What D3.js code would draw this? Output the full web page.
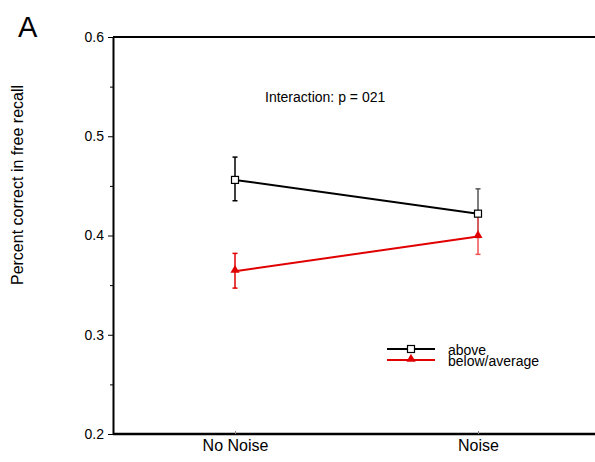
<!DOCTYPE html>
<html>
<head>
<meta charset="utf-8">
<script src="https://cdn.jsdelivr.net/npm/d3@7"></script>
<style>
  body { margin: 0; background: #fff; }
  text { font-family: "Liberation Sans", Arial, sans-serif; }
</style>
</head>
<body>
<script>
// data
var conditions = ["No Noise", "Noise"];
var groups = ["above", "below/average"];
var aboveMean = [0.456, 0.422];
var aboveLow = [0.435, 0.398];
var aboveHigh = [0.479, 0.447];
var belowMean = [0.364, 0.399];
var belowLow = [0.347, 0.381];
var belowHigh = [0.382, 0.420];
var yTicks = [0.2, 0.3, 0.4, 0.5, 0.6];
var yMinor = [0.25, 0.35, 0.45, 0.55];

var W = 595, H = 462;
var margin = {top: 37, right: 0, bottom: 28, left: 113},
    width = W - margin.left - margin.right,
    height = H - margin.top - margin.bottom;

var svg = d3.select('body')
  .append("svg")
    .attr("width", W)
    .attr("height", H);

var g = svg.append("g")
    .attr("transform", "translate(" + margin.left + "," + margin.top + ")");

var x = d3.scalePoint()
  .domain(conditions)
  .range([122, 365]);

var y = d3.scaleLinear()
  .domain([0.2, 0.6])
  .range([height, 0]);

// Y axis
var yAxis = g.append("g")
  .call(d3.axisLeft(y).tickValues(yTicks).tickFormat(d3.format(".1f")).tickSize(5).tickSizeOuter(0));
yAxis.select(".domain").attr("stroke-width", 2);
yAxis.selectAll("text").attr("font-size", 14).attr("dx", -1);
g.append("g")
  .call(d3.axisLeft(y).tickValues(yMinor).tickFormat("").tickSize(3).tickSizeOuter(0))
  .select(".domain").remove();

// top line and X axis
g.append("line").attr("x1", 0).attr("x2", width).attr("y1", 0).attr("y2", 0)
  .attr("stroke", "#000").attr("stroke-width", 2);
var xAxis = g.append("g")
  .attr("transform", "translate(0," + height + ")")
  .call(d3.axisBottom(x).tickSize(-3).tickSizeOuter(0));
xAxis.select(".domain").attr("d", "M0,0H" + width).attr("stroke-width", 2.5);
xAxis.selectAll(".tick line").attr("stroke", "#888");
xAxis.selectAll("text").attr("font-size", 16).attr("dy", 14);

// series
var series = [
  {name: groups[0], mean: aboveMean, lo: aboveLow, hi: aboveHigh, color: "#000", err: "#555", shape: "square"},
  {name: groups[1], mean: belowMean, lo: belowLow, hi: belowHigh, color: "#e00000", err: "#f05050", shape: "triangle"}
];

var line = d3.line()
  .x(function(d, i) { return x(conditions[i]); })
  .y(function(d) { return y(d); });

function marker(sel, s, cx, cy) {
  if (s.shape === "square") {
    sel.append("rect").attr("x", cx - 3.5).attr("y", cy - 3.5).attr("width", 7).attr("height", 7)
      .attr("fill", "#fff").attr("stroke", "#000").attr("stroke-width", 1.2);
  } else {
    sel.append("path").attr("transform", "translate(" + cx + "," + (cy - 1) + ")")
      .attr("d", d3.symbol(d3.symbolTriangle, 36)()).attr("fill", s.color);
  }
}

series.forEach(function(s) {
  var sg = g.append("g");
  // error bars
  s.mean.forEach(function(m, i) {
    var cx = x(conditions[i]);
    var col = i === 0 ? s.color : s.err;
    sg.append("line").attr("x1", cx).attr("x2", cx).attr("y1", y(s.lo[i])).attr("y2", y(s.hi[i]))
      .attr("stroke", col).attr("stroke-width", 1.5);
    [s.lo[i], s.hi[i]].forEach(function(v) {
      sg.append("line").attr("x1", cx - 2.5).attr("x2", cx + 2.5).attr("y1", y(v)).attr("y2", y(v))
        .attr("stroke", col).attr("stroke-width", 1.5);
    });
  });
  sg.append("path").datum(s.mean).attr("d", line)
    .attr("fill", "none").attr("stroke", s.color).attr("stroke-width", 2);
});
series.forEach(function(s) {
  s.mean.forEach(function(m, i) { marker(g, s, x(conditions[i]), y(m)); });
});

// legend
var legend = g.append("g").attr("transform", "translate(274,312)");
series.forEach(function(s, i) {
  var ly = i * 11;
  legend.append("line").attr("x1", 0).attr("x2", 48).attr("y1", ly).attr("y2", ly)
    .attr("stroke", s.color).attr("stroke-width", 2);
  marker(legend, s, 24, ly);
  legend.append("text").attr("x", 61).attr("y", ly + 6).attr("font-size", 14).text(s.name);
});

// annotation
g.append("text").attr("x", 152).attr("y", 65).attr("font-size", 14).text("Interaction: p = 021");

// y label
svg.append("text")
  .attr("transform", "translate(23,185) rotate(-90)")
  .attr("text-anchor", "middle").attr("font-size", 16)
  .text("Percent correct in free recall");

// panel letter
svg.append("text").attr("x", 18).attr("y", 37).attr("font-size", 29).text("A");
</script>
</body>
</html>
